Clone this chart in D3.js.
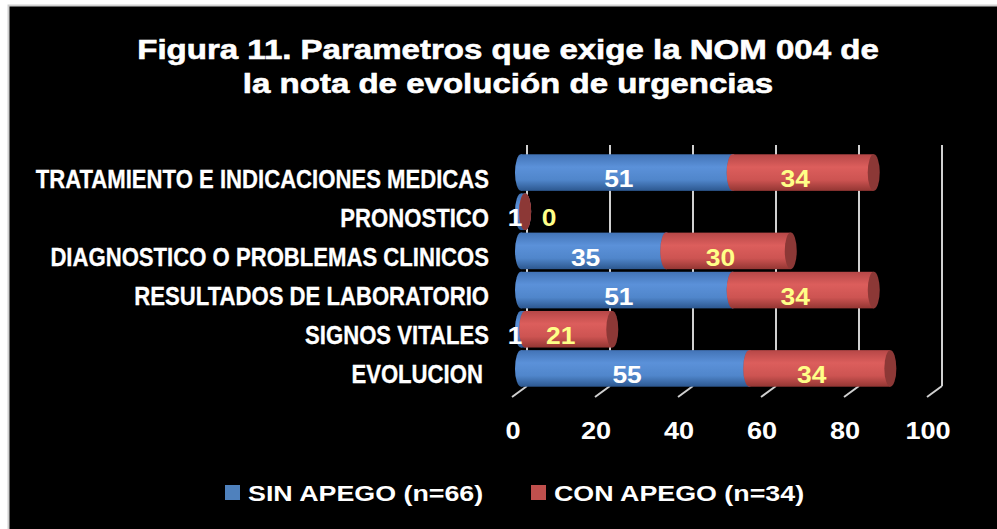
<!DOCTYPE html>
<html>
<head>
<meta charset="utf-8">
<script src="https://cdn.jsdelivr.net/npm/d3@7"></script>
<style>
  html, body { margin: 0; padding: 0; background: #fff; }
  text { font-family: "Liberation Sans", Arial, sans-serif; font-weight: bold; }
</style>
</head>
<body>
<svg class="chart"></svg>
<script>
var width = 997;
var height = 529;

var titleLines = ["Figura 11. Parametros que exige la NOM 004 de", "la nota de evolución de urgencias"];
var categories = ["TRATAMIENTO E INDICACIONES MEDICAS", "PRONOSTICO", "DIAGNOSTICO O PROBLEMAS CLINICOS",
    "RESULTADOS DE LABORATORIO", "SIGNOS VITALES", "EVOLUCION "];
var sinApego = [51, 1, 35, 51, 1, 55];
var conApego = [34, 0, 30, 34, 21, 34];
var seriesNames = ["SIN APEGO (n=66)", "CON APEGO (n=34)"];
var tickValues = [0, 20, 40, 60, 80, 100];

var depthX = 6;  // back wall offset of the fake 3d
var capRx = 6;   // half width of the cylinder end caps

var svg = d3.select(".chart")
    .attr("width", width)
    .attr("height", height);

// the original text is stretched sideways, so squash/stretch glyphs with a transform
function place(sx) {
    return function(sel, fx, fy) {
        sel.attr("transform", function(d, i) {
            return "translate(" + fx(d, i) + "," + fy(d, i) + ") scale(" + sx + ",1)";
        });
    };
}

// black panel with the grey edge at top/left
svg.append("rect")
    .attr("x", 8.5).attr("y", 5.5)
    .attr("width", width).attr("height", height)
    .attr("fill", "#000")
    .attr("stroke", "#cfcfcf")
    .attr("stroke-width", 2);

var defs = svg.append("defs");
function cylGrad(id, stops) {
    var g = defs.append("linearGradient")
        .attr("id", id)
        .attr("x1", 0).attr("y1", 0).attr("x2", 0).attr("y2", 1);
    stops.forEach(function(s) {
        g.append("stop").attr("offset", s[0]).attr("stop-color", s[1]);
    });
}
cylGrad("gBlue", [[0, "#4273b6"], [0.35, "#5b91d9"], [0.7, "#5086cb"], [1, "#2c578f"]]);
cylGrad("gRed", [[0, "#b64747"], [0.35, "#dc5e5c"], [0.7, "#cd5452"], [1, "#933633"]]);
var fills = ["url(#gBlue)", "url(#gRed)"];
var capFills = ["#38649e", "#8c3836"];
var labelColors = ["#ffffff", "#ffff88"];
var legendColors = ["#4f81bd", "#c0504d"];

var x = d3.scaleLinear()
    .domain([0, 100])
    .range([521, 936]);

var y = d3.scaleBand()
    .domain(categories)
    .range([151.7, 389.3])
    .padding(0.066);

// title
svg.append("g").selectAll("text")
    .data(titleLines)
    .enter()
    .append("text")
    .call(place(1.18), function() { return 508; }, function(d, i) { return 58.5 + i * 34; })
    .attr("text-anchor", "middle")
    .attr("fill", "#fff")
    .attr("stroke", "#fff")
    .attr("stroke-width", 0.6)
    .style("font-size", "28px")
    .text(function(d) { return d; });

// back wall gridlines + floor ticks
var grid = svg.append("g");
grid.selectAll("line.v")
    .data(tickValues)
    .enter()
    .append("line")
    .attr("class", "v")
    .attr("x1", function(d) { return x(d) + depthX; })
    .attr("x2", function(d) { return x(d) + depthX; })
    .attr("y1", 145)
    .attr("y2", 386)
    .attr("stroke", "#d0d0d0")
    .attr("stroke-width", 2);
grid.selectAll("line.d")
    .data(tickValues)
    .enter()
    .append("line")
    .attr("class", "d")
    .attr("x1", function(d) { return x(d) + depthX; })
    .attr("x2", function(d) { return x(d) - 9; })
    .attr("y1", 386)
    .attr("y2", 397)
    .attr("stroke", "#d0d0d0")
    .attr("stroke-width", 2);

// x tick labels
svg.append("g").selectAll("text")
    .data(tickValues)
    .enter()
    .append("text")
    .call(place(1.18), function(d) { return x(d) - 8; }, function() { return 439; })
    .attr("text-anchor", "middle")
    .attr("fill", "#fff")
    .style("font-size", "23px")
    .text(function(d) { return d; });

// category labels
svg.append("g").selectAll("text")
    .data(categories)
    .enter()
    .append("text")
    .call(place(0.885), function() { return 489; }, function(d) { return y(d) + y.bandwidth() / 2 + 6; })
    .attr("dy", "0.36em")
    .attr("text-anchor", "end")
    .attr("fill", "#fff")
    .attr("stroke", "#fff")
    .attr("stroke-width", 0.3)
    .style("white-space", "pre")
    .style("font-size", "25px")
    .text(function(d) { return d; });

// stacked cylinders
var rows = categories.map(function(c, i) {
    return { cat: c, sin: sinApego[i], con: conApego[i] };
});
var stack = d3.stack().keys(["sin", "con"]);
var layers = stack(rows);

var bars = svg.append("g");
layers.forEach(function(layer, li) {
    var g = bars.append("g");
    layer.forEach(function(d) {
        var x0 = x(d[0]), x1 = x(d[1]);
        var top = y(d.data.cat), h = y.bandwidth(), cy = top + h / 2;
        g.append("ellipse")
            .attr("cx", x0).attr("cy", cy)
            .attr("rx", capRx).attr("ry", h / 2)
            .attr("fill", fills[li]);
        g.append("rect")
            .attr("x", x0).attr("y", top)
            .attr("width", x1 - x0).attr("height", h)
            .attr("fill", fills[li]);
        g.append("ellipse")
            .attr("cx", x1).attr("cy", cy)
            .attr("rx", capRx).attr("ry", h / 2)
            .attr("fill", capFills[li]);
    });
});

// value labels
layers.forEach(function(layer, li) {
    svg.append("g").selectAll("text")
        .data(layer)
        .enter()
        .append("text")
        .call(place(1.1), function(d) {
            var v = d[1] - d[0];
            // excel pushes a zero label out beside the bar, and a tiny one to its left edge
            if (v === 0) return x(d[1]) + 24;
            if (v < 3) return x(d[0]) - 6;
            return x((d[0] + d[1]) / 2) - 8;
        }, function(d) { return y(d.data.cat) + y.bandwidth() / 2 + 6; })
        .attr("dy", "0.36em")
        .attr("text-anchor", "middle")
        .attr("fill", labelColors[li])
        .style("font-size", "24px")
        .text(function(d) { return d[1] - d[0]; });
});

// legend
var legend = svg.append("g");
var legendX = [225, 531];
seriesNames.forEach(function(name, i) {
    legend.append("rect")
        .attr("x", legendX[i]).attr("y", 485)
        .attr("width", 15).attr("height", 15)
        .attr("fill", legendColors[i]);
    legend.append("text")
        .attr("transform", "translate(" + (legendX[i] + 23) + ",500.5) scale(1.22,1)")
        .attr("fill", "#fff")
        .style("font-size", "22px")
        .text(name);
});
</script>
</body>
</html>
